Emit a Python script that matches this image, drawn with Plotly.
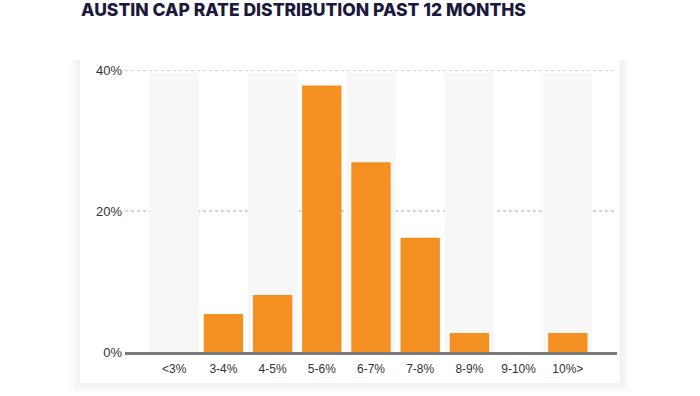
import plotly.graph_objects as go

categories = ["<3%", "3-4%", "4-5%", "5-6%", "6-7%", "7-8%", "8-9%", "9-10%", "10%>"]
shares = [0.0, 5.4, 8.1, 37.8, 26.9, 16.2, 2.7, 0.0, 2.7]
y_ticks = [0, 20, 40]
y_tick_labels = ["0%", "20%", "40%"]
title_text = "AUSTIN CAP RATE DISTRIBUTION PAST 12 MONTHS"

W, H = 700, 396
L, R, T, B = 125, 83, 70, 44
PW, PH = W - L - R, H - T - B

def px(x):
    return (x - L) / PW

def py(y):
    return (H - B - y) / PH

fig = go.Figure()
fig.add_trace(go.Bar(
    x=list(range(len(categories))), y=shares, width=0.8,
    marker=dict(color="#F39021", line=dict(width=0)),
    hoverinfo="skip",
))

shapes = []
# very soft card shadow
for i, op in enumerate([0.012, 0.012, 0.014, 0.016]):
    g = 10 - i * 2.5
    shapes.append(dict(type="rect", xref="paper", yref="paper", layer="below",
                       x0=px(80 - g), x1=px(620 + g), y0=py(383 + g), y1=py(60),
                       fillcolor=f"rgba(0,0,0,{op})", line=dict(width=0)))
# card
shapes.append(dict(type="rect", xref="paper", yref="paper", layer="below",
                   x0=px(80), x1=px(620), y0=py(383), y1=py(45),
                   fillcolor="#ffffff", line=dict(width=0)))
# alternating stripes
for i in range(0, len(categories), 2):
    shapes.append(dict(type="rect", xref="x", yref="y", layer="below",
                       x0=i - 0.5, x1=i + 0.5, y0=0, y1=y_ticks[-1] * 0.99,
                       fillcolor="#f7f7f7", line=dict(width=0)))
# dotted gridlines
for v in y_ticks[1:]:
    shapes.append(dict(type="line", xref="paper", yref="y", layer="between",
                       x0=0, x1=1, y0=v, y1=v,
                       line=dict(color="#a8a8a8", width=1, dash="dot")))

fig.update_layout(
    width=W, height=H, margin=dict(l=L, r=R, t=T, b=B),
    paper_bgcolor="#ffffff", plot_bgcolor="rgba(0,0,0,0)",
    showlegend=False, shapes=shapes, bargap=0.2,
    font=dict(family="Liberation Sans, Arial, sans-serif", size=12, color="#333333"),
    xaxis=dict(range=[-1, len(categories)], tickmode="array",
               tickvals=list(range(len(categories))), ticktext=categories,
               showgrid=False, zeroline=False, showline=True,
               linecolor="#7a7a7a", linewidth=3, ticks="", ticklabelstandoff=4,
               fixedrange=True),
    yaxis=dict(range=[0, 40], tickmode="array", tickvals=y_ticks, ticktext=y_tick_labels,
               showgrid=False, zeroline=False, showline=False, ticks="", ticklabelstandoff=2,
               tickfont=dict(size=13), fixedrange=True),
    annotations=[dict(text=title_text, xref="paper", yref="paper",
                      x=px(79), y=py(10), xanchor="left", yanchor="middle",
                      showarrow=False,
                      font=dict(family="Inter", size=17.5, weight=800, color="#1b1a3c"))],
)
fig.write_html("out.html")
